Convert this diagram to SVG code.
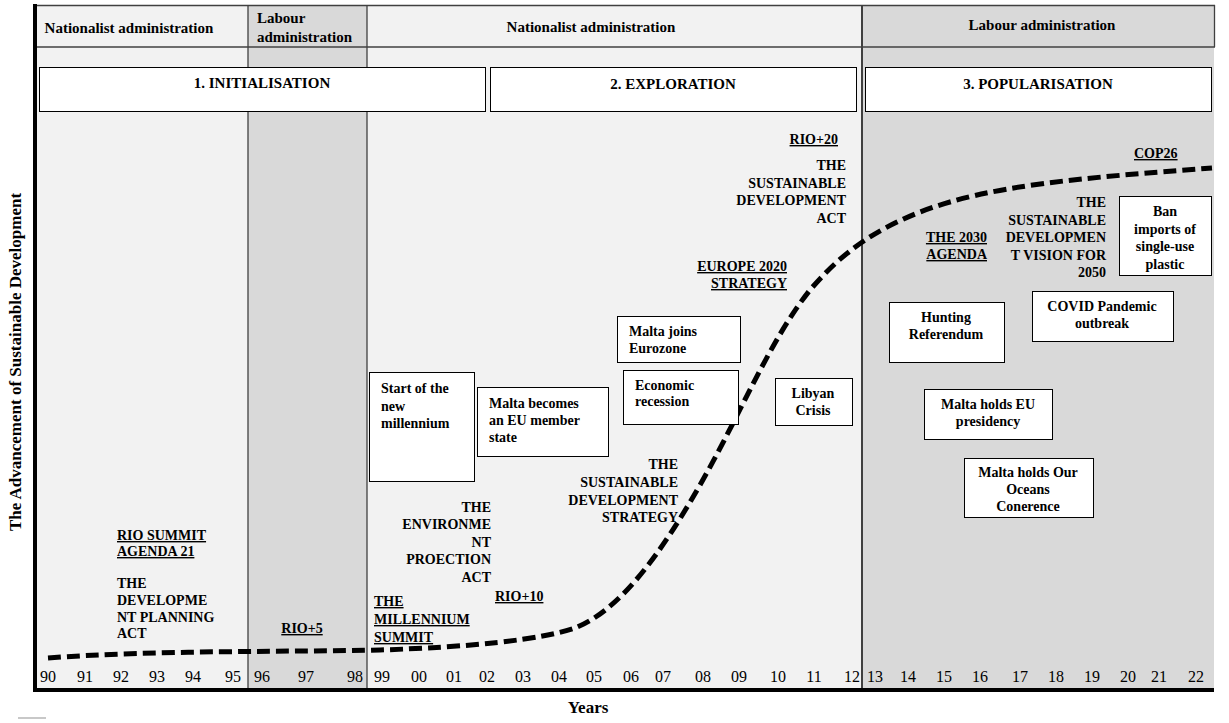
<svg xmlns="http://www.w3.org/2000/svg" width="1229" height="723" viewBox="0 0 1229 723">
<style>
text{font-family:"Liberation Serif","Times New Roman",serif;fill:#000}
.b{font-weight:bold;font-size:14px}
.h{font-weight:bold;font-size:15px}
.yr{font-size:16px}
.ax{font-weight:bold;font-size:17px}
.u{text-decoration:underline}
.r{text-anchor:end}
.m{text-anchor:middle}
.box{fill:#fff;stroke:#000;stroke-width:1}
.lt{fill:#f2f2f2}
.dk{fill:#d9d9d9}
.sep{stroke:#404040;stroke-width:1.3}
</style>
<rect width="1229" height="723" fill="#fff"/>
<g id="background">
<rect class="lt" x="35" y="5" width="213" height="686"/>
<rect class="dk" x="248" y="5" width="119" height="686"/>
<rect class="lt" x="367" y="5" width="495" height="686"/>
<rect class="dk" x="862" y="5" width="352" height="686"/>
<line class="sep" x1="35" y1="5.5" x2="1215" y2="5.5"/>
<line class="sep" x1="35" y1="47" x2="1215" y2="47"/>
<line class="sep" x1="1214.5" y1="5" x2="1214.5" y2="47"/>
<line class="sep" x1="248" y1="5" x2="248" y2="690"/>
<line class="sep" x1="367" y1="5" x2="367" y2="690"/>
<line x1="862" y1="5" x2="862" y2="690" stroke="#404040" stroke-width="2"/>
<line x1="35" y1="4" x2="35" y2="692" stroke="#000" stroke-width="4"/>
<line x1="33" y1="690" x2="1214" y2="690" stroke="#000" stroke-width="4"/>
<rect x="18" y="717" width="28" height="2" fill="#c8c8c8"/>
</g>
<g id="header">
<text class="h m" x="129" y="33">Nationalist administration</text>
<text class="h" x="257" y="23">Labour</text>
<text class="h" x="257" y="42">administration</text>
<text class="h m" x="591" y="32">Nationalist administration</text>
<text class="h m" x="1042" y="30">Labour administration</text>
</g>
<g id="phase1"><rect class="box" x="39.5" y="67.5" width="446" height="44"/><text class="h m" x="262" y="88">1. INITIALISATION</text></g>
<g id="phase2"><rect class="box" x="490.5" y="67.5" width="366" height="44"/><text class="h m" x="673" y="89">2. EXPLORATION</text></g>
<g id="phase3"><rect class="box" x="865.5" y="67.5" width="346" height="44"/><text class="h m" x="1038" y="89">3. POPULARISATION</text></g>
<g id="connectors">
<path d="M48 658 C150 650 300 652 380 650 C470 647 540 640 575 628 C620 610 660 555 700 485 C740 415 770 340 810 290 C840 255 870 232 920 212 C990 185 1080 178 1212 168" fill="none" stroke="#000" stroke-width="5" stroke-dasharray="13 6"/>
</g>
<g id="rio-summit"><text class="b u" x="117" y="540">RIO SUMMIT</text><text class="b u" x="117" y="556">AGENDA 21</text></g>
<g id="dev-planning-act"><text class="b" x="117" y="588">THE</text><text class="b" x="117" y="605">DEVELOPME</text><text class="b" x="117" y="622">NT PLANNING</text><text class="b" x="117" y="638">ACT</text></g>
<g id="rio5"><text class="b u m" x="302" y="633">RIO+5</text></g>
<g id="millennium-summit"><text class="b u" x="374" y="606">THE</text><text class="b u" x="374" y="624">MILLENNIUM</text><text class="b u" x="374" y="642">SUMMIT</text></g>
<g id="env-protection-act"><text class="b r" x="491" y="512">THE</text><text class="b r" x="491" y="529">ENVIRONME</text><text class="b r" x="491" y="547">NT</text><text class="b r" x="491" y="564">PROECTION</text><text class="b r" x="491" y="582">ACT</text></g>
<g id="rio10"><text class="b u" x="495" y="601">RIO+10</text></g>
<g id="sd-strategy"><text class="b r" x="678" y="469">THE</text><text class="b r" x="678" y="487">SUSTAINABLE</text><text class="b r" x="678" y="505">DEVELOPMENT</text><text class="b r" x="678" y="522">STRATEGY</text></g>
<g id="europe2020"><text class="b u r" x="787" y="271">EUROPE 2020</text><text class="b u r" x="787" y="288">STRATEGY</text></g>
<g id="rio20"><text class="b u r" x="838" y="144">RIO+20</text></g>
<g id="sd-act"><text class="b r" x="846" y="170">THE</text><text class="b r" x="846" y="188">SUSTAINABLE</text><text class="b r" x="846" y="205">DEVELOPMENT</text><text class="b r" x="846" y="223">ACT</text></g>
<g id="agenda2030"><text class="b u r" x="987" y="242">THE 2030</text><text class="b u r" x="987" y="259">AGENDA</text></g>
<g id="sd-vision"><text class="b r" x="1106" y="207">THE</text><text class="b r" x="1106" y="225">SUSTAINABLE</text><text class="b r" x="1106" y="242">DEVELOPMEN</text><text class="b r" x="1106" y="260">T VISION FOR</text><text class="b r" x="1106" y="277">2050</text></g>
<g id="cop26"><text class="b u" x="1134" y="158">COP26</text></g>
<g id="start-millennium"><rect class="box" x="369.5" y="372.5" width="105" height="109"/><text class="b" x="381" y="393">Start of the</text><text class="b" x="381" y="411">new</text><text class="b" x="381" y="428">millennium</text></g>
<g id="eu-member"><rect class="box" x="477.5" y="387.5" width="131" height="69"/><text class="b" x="489" y="408">Malta becomes</text><text class="b" x="489" y="425">an EU member</text><text class="b" x="489" y="442">state</text></g>
<g id="eurozone"><rect class="box" x="617.5" y="316.5" width="123" height="46"/><text class="b" x="629" y="336">Malta joins</text><text class="b" x="629" y="353">Eurozone</text></g>
<g id="recession"><rect class="box" x="623.5" y="370.5" width="115" height="54"/><text class="b" x="635" y="390">Economic</text><text class="b" x="635" y="406">recession</text></g>
<g id="libyan"><rect class="box" x="775.5" y="378.5" width="77" height="47"/><text class="b m" x="813" y="398">Libyan</text><text class="b m" x="813" y="415">Crisis</text></g>
<g id="hunting"><rect class="box" x="889.5" y="302.5" width="115" height="60"/><text class="b m" x="946" y="322">Hunting</text><text class="b m" x="946" y="339">Referendum</text></g>
<g id="covid"><rect class="box" x="1032.5" y="291.5" width="141" height="50"/><text class="b m" x="1102" y="311">COVID Pandemic</text><text class="b m" x="1102" y="328">outbreak</text></g>
<g id="eu-presidency"><rect class="box" x="924.5" y="389.5" width="128" height="50"/><text class="b m" x="988" y="409">Malta holds EU</text><text class="b m" x="988" y="426">presidency</text></g>
<g id="oceans"><rect class="box" x="964.5" y="458.5" width="129" height="59"/><text class="b m" x="1028" y="477">Malta holds Our</text><text class="b m" x="1028" y="494">Oceans</text><text class="b m" x="1028" y="511">Conerence</text></g>
<g id="plastic-ban"><rect class="box" x="1119.5" y="196.5" width="92" height="79"/><text class="b m" x="1165" y="216">Ban</text><text class="b m" x="1165" y="234">imports of</text><text class="b m" x="1165" y="251">single-use</text><text class="b m" x="1165" y="269">plastic</text></g>
<g id="years-axis">
<text class="yr m" x="48" y="682">90</text><text class="yr m" x="85" y="682">91</text><text class="yr m" x="121" y="682">92</text><text class="yr m" x="157" y="682">93</text><text class="yr m" x="193" y="682">94</text><text class="yr m" x="233" y="682">95</text>
<text class="yr m" x="262" y="682">96</text><text class="yr m" x="306" y="682">97</text><text class="yr m" x="355" y="682">98</text>
<text class="yr m" x="382" y="682">99</text><text class="yr m" x="419" y="682">00</text><text class="yr m" x="454" y="682">01</text><text class="yr m" x="487" y="682">02</text><text class="yr m" x="523" y="682">03</text><text class="yr m" x="559" y="682">04</text><text class="yr m" x="594" y="682">05</text><text class="yr m" x="631" y="682">06</text><text class="yr m" x="663" y="682">07</text><text class="yr m" x="703" y="682">08</text><text class="yr m" x="739" y="682">09</text><text class="yr m" x="778" y="682">10</text><text class="yr m" x="814" y="682">11</text><text class="yr m" x="852" y="682">12</text>
<text class="yr m" x="875" y="682">13</text><text class="yr m" x="908" y="682">14</text><text class="yr m" x="944" y="682">15</text><text class="yr m" x="980" y="682">16</text><text class="yr m" x="1020" y="682">17</text><text class="yr m" x="1056" y="682">18</text><text class="yr m" x="1092" y="682">19</text><text class="yr m" x="1128" y="682">20</text><text class="yr m" x="1159" y="682">21</text><text class="yr m" x="1196" y="682">22</text>
<text class="ax m" x="588" y="713">Years</text>
<text class="ax m" transform="translate(21 362) rotate(-90)">The Advancement of Sustainable Development</text>
</g>
</svg>
